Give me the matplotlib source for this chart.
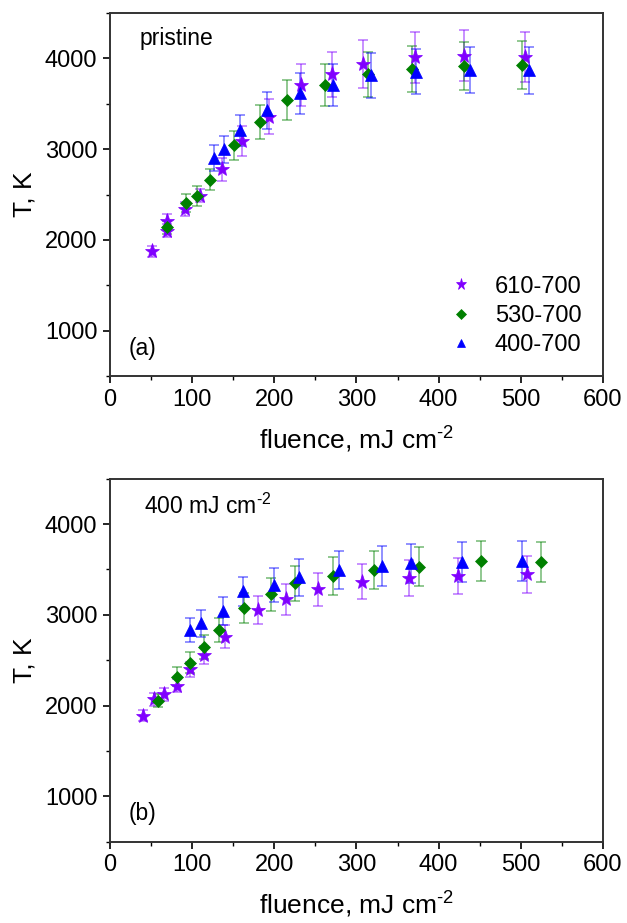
import matplotlib
matplotlib.use("Agg")
import matplotlib.pyplot as plt
from matplotlib.ticker import MultipleLocator

plt.rcParams['font.family'] = ['Liberation Sans', 'DejaVu Sans']
plt.rcParams['mathtext.fontset'] = 'custom'
plt.rcParams['mathtext.rm'] = 'Liberation Sans'
plt.rcParams['mathtext.it'] = 'Liberation Sans:italic'

# panel (a) pristine
a_star_x = [51, 69, 69, 91, 109, 136, 161, 193, 232, 270, 308, 371, 431, 505]
a_star_y = [1873, 2204, 2102, 2341, 2488, 2776, 3089, 3358, 3707, 3825, 3936, 4010, 4028, 4017]
a_star_e = [60, 80, 70, 77, 74, 123, 162, 193, 233, 247, 265, 276, 280, 272]

a_dia_x = [69, 92, 106, 122, 151, 182, 216, 262, 314, 368, 431, 502]
a_dia_y = [2138, 2411, 2488, 2665, 3041, 3298, 3541, 3707, 3825, 3881, 3917, 3925]
a_dia_e = [75, 100, 110, 120, 156, 184, 220, 233, 250, 256, 265, 263]

a_tri_x = [127, 139, 158, 191, 231, 272, 318, 373, 438, 510]
a_tri_y = [2905, 2997, 3207, 3428, 3615, 3704, 3814, 3855, 3870, 3870]
a_tri_e = [144, 147, 170, 203, 225, 230, 245, 248, 254, 257]

# panel (b) 400 mJ cm-2
b_star_x = [40, 54, 66, 82, 97, 114, 140, 180, 214, 253, 307, 364, 423, 508]
b_star_y = [1890, 2070, 2125, 2220, 2400, 2558, 2759, 3053, 3170, 3280, 3364, 3401, 3427, 3445]
b_star_e = [58, 70, 73, 73, 80, 100, 128, 155, 170, 180, 194, 198, 200, 202]

b_dia_x = [59, 82, 97, 115, 133, 163, 196, 225, 272, 321, 376, 452, 524]
b_dia_y = [2055, 2320, 2473, 2649, 2833, 3078, 3225, 3346, 3427, 3493, 3530, 3592, 3584]
b_dia_e = [73, 106, 114, 132, 136, 165, 180, 190, 205, 214, 213, 220, 220]

b_tri_x = [97, 111, 138, 162, 200, 230, 279, 331, 366, 429, 502]
b_tri_y = [2833, 2906, 3045, 3262, 3328, 3412, 3493, 3537, 3566, 3584, 3592]
b_tri_e = [136, 147, 152, 160, 190, 200, 210, 216, 214, 218, 222]

labels = ['610-700', '530-700', '400-700']
colors = ['#8000ff', '#008000', '#0000ff']
markers = ['*', 'D', '^']
msizes = [11, 6.5, 8]

fig = plt.figure(figsize=(6.27, 9.23), dpi=100)
ax1 = fig.add_axes([0.1754, 0.5926, 0.7863, 0.3933])
ax2 = fig.add_axes([0.1754, 0.0881, 0.7863, 0.3933])

panels = [
    (ax1, [(a_star_x, a_star_y, a_star_e), (a_dia_x, a_dia_y, a_dia_e), (a_tri_x, a_tri_y, a_tri_e)]),
    (ax2, [(b_star_x, b_star_y, b_star_e), (b_dia_x, b_dia_y, b_dia_e), (b_tri_x, b_tri_y, b_tri_e)]),
]

xlab = 'fluence, mJ cm$^{\\mathrm{\\text{-2}}}$'

for ax, series in panels:
    for (x, y, e), c, m, ms, lab in zip(series, colors, markers, msizes, labels):
        ax.errorbar(x, y, yerr=e, fmt='none', ecolor=c, alpha=0.55, elinewidth=1.1,
                    capsize=3.5, capthick=1.1, zorder=2)
        ax.plot(x, y, linestyle='none', marker=m, color=c, markersize=ms,
                markeredgewidth=0.5, label=lab, zorder=3)
    ax.set_xlim(0, 600)
    ax.set_ylim(500, 4500)
    ax.set_yticks([1000, 2000, 3000, 4000])
    ax.xaxis.set_minor_locator(MultipleLocator(50))
    ax.yaxis.set_minor_locator(MultipleLocator(500))
    ax.tick_params(which='major', direction='out', length=5, width=1.2, labelsize=17, pad=4)
    ax.tick_params(which='minor', direction='out', length=3, width=1.0)
    for s in ax.spines.values():
        s.set_linewidth(1.4)
        s.set_color('#333333')
    ax.set_xlabel(xlab, fontsize=19, labelpad=10)
    ax.set_ylabel('T, K', fontsize=19, labelpad=6)

ax1.text(0.061, 0.93, 'pristine', transform=ax1.transAxes, fontsize=16.5, va='center')
ax1.text(0.037, 0.077, '(a)', transform=ax1.transAxes, fontsize=16.5, va='center')
ax2.text(0.069, 0.923, '400 mJ cm$^{\\mathrm{\\text{-2}}}$', transform=ax2.transAxes, fontsize=16.5, va='center')
ax2.text(0.037, 0.077, '(b)', transform=ax2.transAxes, fontsize=16.5, va='center')

ax1.legend(loc='lower right', frameon=False, fontsize=17, handletextpad=0.45,
           labelspacing=0.3, markerscale=0.75, borderaxespad=0.3, bbox_to_anchor=(0.99, 0.01))

fig.savefig('out.png', dpi=100)
